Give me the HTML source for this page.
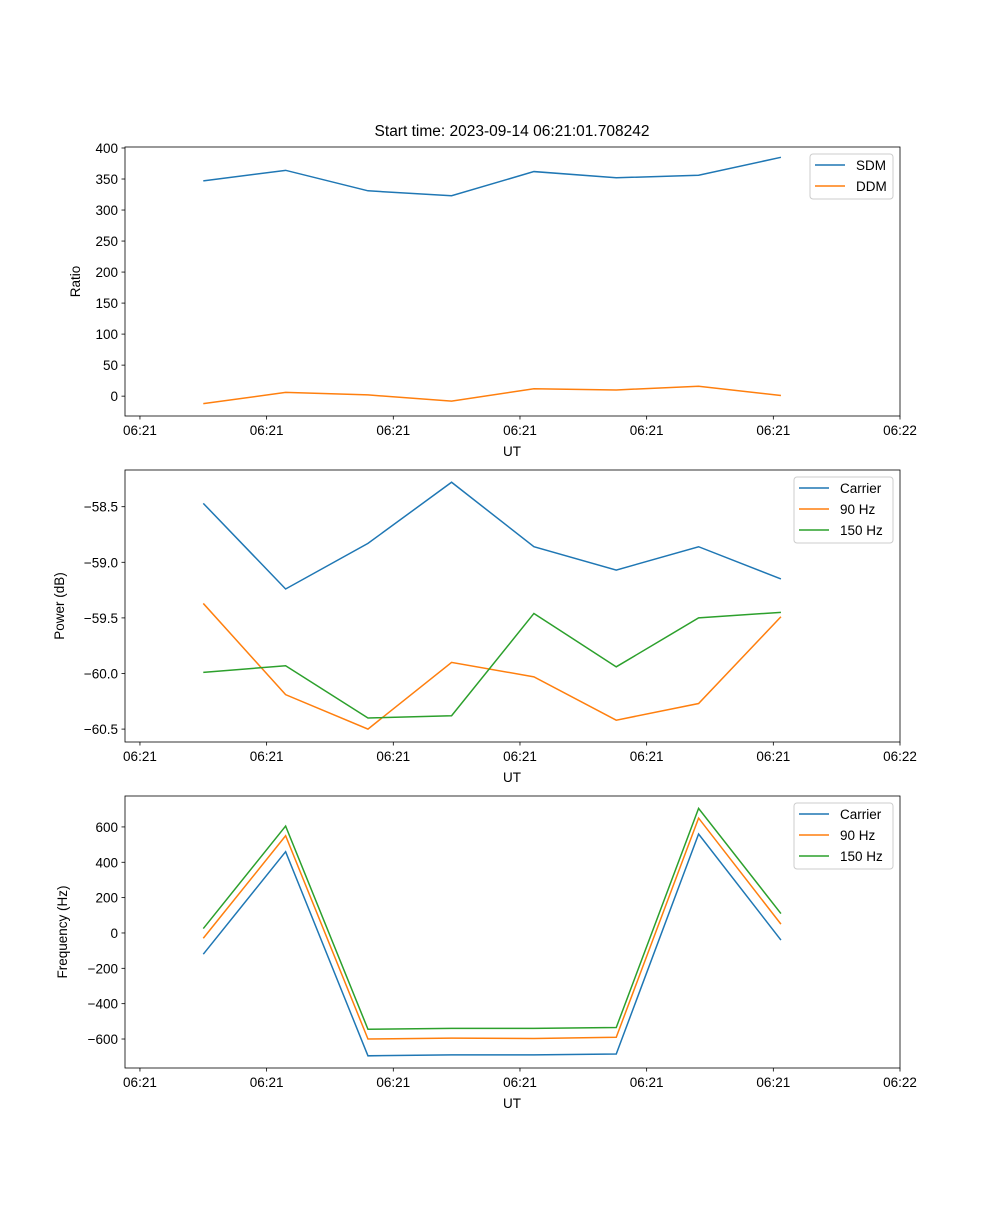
<!DOCTYPE html>
<html><head><meta charset="utf-8"><style>
body{margin:0;background:#fff;}
svg{font-family:"Liberation Sans","DejaVu Sans",sans-serif;}
</style></head><body>
<svg id="fig" width="1000" height="1200" xmlns="http://www.w3.org/2000/svg">
<rect width="1000" height="1200" fill="#fff"/>
<text x="512" y="136" font-size="15.5" text-anchor="middle">Start time: 2023-09-14 06:21:01.708242</text>
</svg>
<script>
const times = [5.0, 11.5, 18.0, 24.6, 31.1, 37.6, 44.1, 50.6];
const xTicks = [0, 10, 20, 30, 40, 50, 60];
const xTickLabels = ["06:21","06:21","06:21","06:21","06:21","06:21","06:22"];
const sdm = [347, 364, 331, 323, 362, 352, 356, 385];
const ddm = [-12, 6, 2, -8, 12, 10, 16, 1];
const ratioTicks = [0, 50, 100, 150, 200, 250, 300, 350, 400];
const powCarrier = [-58.47, -59.24, -58.83, -58.28, -58.86, -59.07, -58.86, -59.15];
const pow90 = [-59.37, -60.19, -60.50, -59.90, -60.03, -60.42, -60.27, -59.49];
const pow150 = [-59.99, -59.93, -60.40, -60.38, -59.46, -59.94, -59.50, -59.45];
const powTicks = [-60.5, -60.0, -59.5, -59.0, -58.5];
const freqCarrier = [-120, 460, -695, -690, -690, -685, 560, -40];
const freq90 = [-30, 550, -600, -595, -597, -590, 650, 50];
const freq150 = [25, 605, -545, -540, -540, -535, 705, 110];
const freqTicks = [-600, -400, -200, 0, 200, 400, 600];

const NS = "http://www.w3.org/2000/svg";
const svg = document.getElementById('fig');
const X0 = 125, X1 = 900, XMIN = -1.18, XMAX = 60;
function xs(t){ return X0 + (t - XMIN) / (XMAX - XMIN) * (X1 - X0); }
function mk(tag, attrs, parent){
  const e = document.createElementNS(NS, tag);
  for (const k in attrs) e.setAttribute(k, attrs[k]);
  (parent || svg).appendChild(e);
  return e;
}
function fmt(v, dec){ const s = v.toFixed(dec); return s.replace('-', '\u2212'); }

function panel(name, top, bottom, ymin, ymax, ticks, dec, ylabel, series, legend){
  const g = mk('g', {});
  
  
  const ys = v => bottom - (v - ymin) / (ymax - ymin) * (bottom - top);
  const data = mk('g', {}, g);
  
  
  series.forEach(s => {
    const pts = s.vals.map((v, i) => xs(times[i]).toFixed(2) + ',' + ys(v).toFixed(2)).join(' ');
    const pl = mk('polyline', {points: pts, fill: 'none', stroke: s.color, 'stroke-width': 1.5}, data);
    
    
  });
  const frame = mk('rect', {x: X0, y: top, width: X1 - X0, height: bottom - top, fill: 'none', stroke: '#000', 'stroke-width': 0.8}, g);
  
  
  const yax = mk('g', {}, g);
  
  
  ticks.forEach(v => {
    const y = ys(v);
    mk('line', {x1: X0 - 3.5, x2: X0, y1: y, y2: y, stroke: '#000', 'stroke-width': 0.8}, yax);
    const t = mk('text', {x: X0 - 7, y: y + 5, 'font-size': 13.5, 'text-anchor': 'end'}, yax);
    t.textContent = fmt(v, dec);
  });
  const xax = mk('g', {}, g);
  
  
  xTicks.forEach((v, i) => {
    const x = xs(v);
    mk('line', {x1: x, x2: x, y1: bottom, y2: bottom + 3.5, stroke: '#000', 'stroke-width': 0.8}, xax);
    const t = mk('text', {x: x, y: bottom + 19, 'font-size': 13.5, 'text-anchor': 'middle'}, xax);
    t.textContent = xTickLabels[i];
  });
  const xl = mk('text', {x: 512, y: bottom + 40, 'font-size': 13.5, 'text-anchor': 'middle'}, g);
  xl.textContent = 'UT';
  
  
  const cy = (top + bottom) / 2;
  const lx = legend.ylabelX;
  const yl = mk('text', {x: lx, y: cy, 'font-size': 13.5, 'text-anchor': 'middle', transform: 'rotate(-90 ' + lx + ' ' + cy + ')'}, g);
  yl.textContent = ylabel;
  
  
  const lg = mk('g', {}, g);
  
  
  const h = 3 + series.length * 21;
  mk('rect', {x: legend.x, y: top + 7, width: 893 - legend.x, height: h, rx: 3, fill: '#fff', 'fill-opacity': 0.8, stroke: '#ccc', 'stroke-width': 1}, lg);
  series.forEach((s, i) => {
    const y = top + 18 + i * 21;
    const ent = mk('g', {}, lg);
    
    
    mk('line', {x1: legend.x + 5, x2: legend.x + 35, y1: y, y2: y, stroke: s.color, 'stroke-width': 1.5}, ent);
    const t = mk('text', {x: legend.x + 46, y: y + 5, 'font-size': 13.5}, ent);
    t.textContent = s.label;
  });
}

panel('ratio', 147, 416, -32, 401.6, ratioTicks, 0, 'Ratio',
  [{key:'sdm', label:'SDM', color:'#1f77b4', vals: sdm},
   {key:'ddm', label:'DDM', color:'#ff7f0e', vals: ddm}],
  {x: 810, ylabelX: 80});
panel('power', 470, 742, -60.616, -58.17, powTicks, 1, 'Power (dB)',
  [{key:'carrier', label:'Carrier', color:'#1f77b4', vals: powCarrier},
   {key:'90hz', label:'90 Hz', color:'#ff7f0e', vals: pow90},
   {key:'150hz', label:'150 Hz', color:'#2ca02c', vals: pow150}],
  {x: 794, ylabelX: 64});
panel('frequency', 796, 1068, -764, 775, freqTicks, 0, 'Frequency (Hz)',
  [{key:'carrier', label:'Carrier', color:'#1f77b4', vals: freqCarrier},
   {key:'90hz', label:'90 Hz', color:'#ff7f0e', vals: freq90},
   {key:'150hz', label:'150 Hz', color:'#2ca02c', vals: freq150}],
  {x: 794, ylabelX: 67});
</script>
</body></html>
